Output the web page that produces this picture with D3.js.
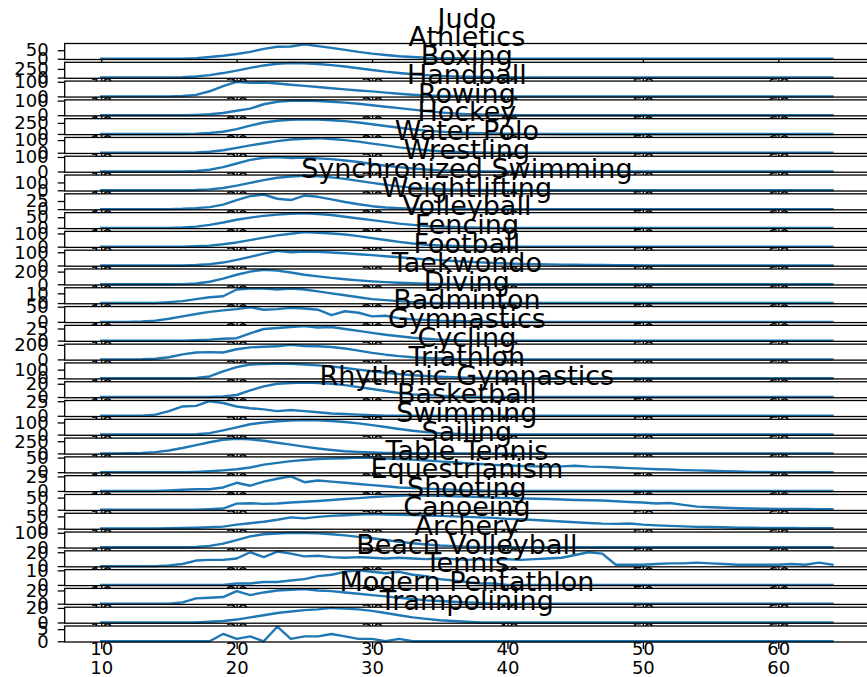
<!DOCTYPE html>
<html>
<head>
<meta charset="utf-8">
<script src="https://cdn.jsdelivr.net/npm/d3@7"></script>
<style>
  body { margin: 0; background: #fff; }
  svg { display: block; }
  text { font-family: "DejaVu Sans", sans-serif; fill: #000; }
</style>
</head>
<body>
<svg id="chart" width="867" height="677"></svg>
<script>
// ages on the x axis
var ages = [10,11,12,13,14,15,16,17,18,19, 20,21,22,23,24,25,26,27,28,29, 30,31,32,33,34,35,36,37,38,39,
            40,41,42,43,44,45,46,47,48,49, 50,51,52,53,54,55,56,57,58,59, 60,61,62,63,64];
var xTicks = [10, 20, 30, 40, 50, 60];

var sports = ["Judo", "Athletics", "Boxing", "Handball", "Rowing", "Hockey", "Water Polo", "Wrestling",
  "Synchronized Swimming", "Weightlifting", "Volleyball", "Fencing", "Football", "Taekwondo", "Diving",
  "Badminton", "Gymnastics", "Cycling", "Triathlon", "Rhythmic Gymnastics", "Basketball", "Swimming",
  "Sailing", "Table Tennis", "Equestrianism", "Shooting", "Canoeing", "Archery", "Beach Volleyball",
  "Tennis", "Modern Pentathlon", "Trampolining"];

// counts per age, ages 10..64
var judo       = [0,0,0,0,0,0,1,4,10,18, 28,40,58,70,72,85,74,64,52,40, 30,22,15,10,6,4,3,2,1,1, 0,0,0,0,0,0,0,0,0,0, 0,0,0,0,0,0,0,0,0,0, 0,0,0,0,0];
var athletics  = [0,0,0,0,1,3,12,30,70,130, 200,280,350,400,420,415,390,360,320,270, 220,170,130,95,70,50,35,25,18,12, 9,6,4,3,2,1,1,0,0,0, 0,0,0,0,0,0,0,0,0,0, 0,0,0,0,0];
var boxing     = [0,0,0,0,0,0,2,10,35,70, 100,93,95,88,80,72,64,56,48,40, 34,26,18,11,6,3,2,1,0,0, 0,0,0,0,0,0,0,0,0,0, 0,0,0,0,0,0,0,0,0,0, 0,0,0,0,0];
var handball   = [0,0,0,0,0,0,0,2,6,15, 30,45,75,92,98,100,97,92,86,78, 68,58,48,38,28,19,12,7,4,2, 1,0,0,0,0,0,0,0,0,0, 0,0,0,0,0,0,0,0,0,0, 0,0,0,0,0];
var rowing     = [0,0,0,0,0,0,0,6,20,50, 110,190,260,300,320,330,325,310,290,260, 220,180,140,105,75,52,35,22,14,9, 5,3,2,1,0,0,0,0,0,0, 0,0,0,0,0,0,0,0,0,0, 0,0,0,0,0];
var hockey     = [0,0,0,0,0,0,0,2,8,20, 38,58,75,92,105,110,115,108,100,88, 72,58,42,30,20,12,7,4,2,1, 0,0,0,0,0,0,0,0,0,0, 0,0,0,0,0,0,0,0,0,0, 0,0,0,0,0];
var waterPolo  = [0,0,0,0,0,0,1,4,12,30, 55,80,95,100,92,96,90,85,76,65, 52,40,30,21,14,8,5,3,1,0, 0,0,0,0,0,0,0,0,0,0, 0,0,0,0,0,0,0,0,0,0, 0,0,0,0,0];
var wrestling  = [0,0,0,0,0,0,0,3,12,30, 60,95,130,160,175,185,178,165,145,120, 95,70,50,34,22,14,8,5,3,1, 0,0,0,0,0,0,0,0,0,0, 0,0,0,0,0,0,0,0,0,0, 0,0,0,0,0];
var synchro    = [0,0,0,0,0,0,1,3,6,14, 28,40,45,32,28,42,38,30,22,15, 9,5,3,1,0,0,0,0,0,0, 0,0,0,0,0,0,0,0,0,0, 0,0,0,0,0,0,0,0,0,0, 0,0,0,0,0];
var weightlift = [0,0,0,0,0,0,2,6,14,25, 38,48,56,62,66,68,65,60,52,44, 36,28,20,14,9,6,4,2,1,0, 0,0,0,0,0,0,0,0,0,0, 0,0,0,0,0,0,0,0,0,0, 0,0,0,0,0];
var volleyball = [0,0,0,0,0,0,0,3,8,18, 32,50,68,85,98,110,105,100,92,80, 65,50,36,24,15,9,5,3,1,0, 0,0,0,0,0,0,0,0,0,0, 0,0,0,0,0,0,0,0,0,0, 0,0,0,0,0];
var fencing    = [0,0,0,0,0,0,0,3,10,22, 42,65,90,110,100,105,103,98,92,85, 78,70,62,54,46,40,34,28,23,19, 15,12,10,8,6,5,4,3,2,2, 1,1,0,0,0,0,0,0,0,0, 0,0,0,0,0];
var football   = [0,0,0,0,0,0,2,12,40,90, 150,200,230,215,185,150,125,100,80,62, 46,33,23,15,10,6,4,2,1,0, 0,0,0,0,0,0,0,0,0,0, 0,0,0,0,0,0,0,0,0,0, 0,0,0,0,0];
var taekwondo  = [0,0,0,0,0,1,2,4,6,7, 14,15,15,14,15,14,12,10,8,6, 4,3,2,1,0,0,0,0,0,0, 0,0,0,0,0,0,0,0,0,0, 0,0,0,0,0,0,0,0,0,0, 0,0,0,0,0];
var diving     = [0,0,0,1,4,10,18,26,33,38, 42,48,40,42,46,44,40,22,35,30, 18,20,12,8,6,4,3,2,1,0, 0,0,0,0,0,0,0,0,0,0, 0,0,0,0,0,0,0,0,0,0, 0,0,0,0,0];
var badminton  = [0,0,0,0,0,0,0,1,2,4, 5,15,24,26,28,30,27,28,24,20, 16,12,9,6,4,2,1,0,0,0, 0,0,0,0,0,0,0,0,0,0, 0,0,0,0,0,0,0,0,0,0, 0,0,0,0,0];
var gymnastics = [0,0,0,2,10,30,70,95,100,95, 140,165,175,180,200,185,180,170,150,120, 90,65,45,30,20,12,7,4,2,1, 0,0,0,0,0,0,0,0,0,0, 0,0,0,0,0,0,0,0,0,0, 0,0,0,0,0];
var cycling    = [0,0,0,0,0,0,0,3,20,80, 130,160,165,170,168,160,150,138,120,100, 82,64,48,35,25,17,11,7,4,3, 2,1,0,0,0,0,0,0,0,0, 0,0,0,0,0,0,0,0,0,0, 0,0,0,0,0];
var triathlon  = [0,0,0,0,0,0,0,0,0,1, 3,10,16,20,21,22,21,20,18,15, 12,9,6,4,3,2,1,0,0,0, 0,0,0,0,0,0,0,0,0,0, 0,0,0,0,0,0,0,0,0,0, 0,0,0,0,0];
var rhythmic   = [0,0,0,0,2,8,16,17,25,22, 16,13,11,8,10,8,6,4,3,2, 1,0,0,0,0,0,0,0,0,0, 0,0,0,0,0,0,0,0,0,0, 0,0,0,0,0,0,0,0,0,0, 0,0,0,0,0];
var basketball = [0,0,0,0,0,0,0,3,12,35, 60,85,100,110,115,120,118,112,104,92, 78,62,46,32,20,12,7,4,2,1, 0,0,0,0,0,0,0,0,0,0, 0,0,0,0,0,0,0,0,0,0, 0,0,0,0,0];
var swimming   = [0,0,2,8,25,60,110,170,230,280, 300,290,260,220,180,140,100,70,45,30, 18,10,6,3,2,1,0,0,0,0, 0,0,0,0,0,0,0,0,0,0, 0,0,0,0,0,0,0,0,0,0, 0,0,0,0,0];
var sailing    = [0,0,0,0,0,0,0,1,3,6, 10,16,26,32,38,42,45,47,48,50, 49,47,45,43,40,37,34,31,28,25, 23,21,20,19,20,22,19,18,16,14, 12,10,9,7,6,5,3,2,1,1, 0,0,0,0,0];
var tableTennis= [0,0,0,0,0,1,2,3,3,6, 14,9,16,21,25,15,18,16,14,12, 10,8,6,5,4,3,2,1,1,0, 0,0,0,0,0,0,0,0,0,0, 0,0,0,0,0,0,0,0,0,0, 0,0,0,0,0];
var equestrian = [0,0,0,0,0,0,0,0,2,5, 25,27,24,26,30,33,36,40,44,48, 52,55,57,60,58,57,55,54,52,50, 48,47,45,44,42,40,39,38,35,32, 30,26,28,20,13,10,8,6,5,4, 3,3,3,2,2];
var shooting   = [0,0,0,0,0,1,2,3,5,8, 16,22,28,36,46,42,48,52,55,58, 60,58,57,56,54,52,50,48,46,44, 40,38,35,32,29,26,23,20,19,21, 16,13,11,9,7,6,5,3,3,2, 2,2,1,1,1];
var canoeing   = [0,0,0,0,0,0,0,2,10,25, 50,75,90,95,100,98,96,90,82,72, 62,50,38,28,19,12,8,5,3,2, 1,0,0,0,0,0,0,0,0,0, 0,0,0,0,0,0,0,0,0,0, 0,0,0,0,0];
var archery    = [0,0,0,0,0,1,3,8,9,9, 11,20,13,21,18,14,15,13,12,13, 12,11,12,11,10,11,10,9,10,9, 10,9,10,11,12,16,20,18,2,2, 2,3,4,4,5,4,3,2,2,2, 2,3,2,5,2];
var beachVolley= [0,0,0,0,0,0,0,0,0,0, 1,1,2,2,3,4,6,7,9,10, 9,8,9,7,6,4,3,2,1,1, 0,0,0,0,0,0,0,0,0,0, 0,0,0,0,0,0,0,0,0,0, 0,0,0,0,0];
var tennis     = [0,0,0,0,0,0,2,8,9,10, 19,13,17,20,21,22,20,19,17,15, 13,11,9,7,5,4,3,2,1,0, 0,0,0,0,0,0,0,0,0,0, 0,0,0,0,0,0,0,0,0,0, 0,0,0,0,0];
var pentathlon = [0,0,0,0,0,0,0,0,1,2, 4,7,10,13,15,17,18,20,19,18, 16,13,10,7,5,3,2,1,0,0, 0,0,0,0,0,0,0,0,0,0, 0,0,0,0,0,0,0,0,0,0, 0,0,0,0,0];
var trampoline = [0,0,0,0,0,0,0,0,0,3, 1,2,0,6,1,2,2,3,2,1, 1,0,1,0,0,0,0,0,0,0, 0,0,0,0,0,0,0,0,0,0, 0,0,0,0,0,0,0,0,0,0, 0,0,0,0,0];

var series = [judo, athletics, boxing, handball, rowing, hockey, waterPolo, wrestling, synchro, weightlift,
  volleyball, fencing, football, taekwondo, diving, badminton, gymnastics, cycling, triathlon, rhythmic,
  basketball, swimming, sailing, tableTennis, equestrian, shooting, canoeing, archery, beachVolley,
  tennis, pentathlon, trampoline];

// layout (axes run past the right edge, like the original figure)
var left = 64.7, right = 869, top0 = 43.5, step = 18.79, axH = 16;

var svg = d3.select("#chart");
svg.append("rect").attr("width", 867).attr("height", 677).attr("fill", "#fff");

var x = d3.scaleLinear().domain([7.3, 66.7]).range([left, right]);

// matplotlib-like locator: biggest nice step that still leaves two ticks in view
function yStep(maxV) {
  var lim = 1.05 * maxV;
  var e = Math.pow(10, Math.floor(Math.log10(lim)));
  var best = e;
  [1, 2, 2.5, 5, 10].forEach(function(s) { if (s * e <= lim + 1e-9) best = s * e; });
  return best;
}

sports.forEach(function(name, i) {
  var vals = series[i];
  var maxV = d3.max(vals);
  var t = top0 + i * step, b = t + axH;
  var y = d3.scaleLinear().domain([-0.05 * maxV, 1.05 * maxV]).range([b, t]);
  var g = svg.append("g");

  g.append("rect").attr("x", left).attr("y", t).attr("width", right - left).attr("height", axH)
    .attr("fill", "#fff");

  var line = d3.line().x(function(d, k) { return x(ages[k]); }).y(function(d) { return y(d); });
  g.append("path").datum(vals).attr("d", line)
    .attr("fill", "none").attr("stroke", "#1f77b4").attr("stroke-width", 2.4)
    .attr("stroke-linejoin", "round").attr("stroke-linecap", "square");

  g.append("rect").attr("x", left).attr("y", t).attr("width", right - left).attr("height", axH)
    .attr("fill", "none").attr("stroke", "#000").attr("stroke-width", 1.3);

  var xa = g.append("g").attr("transform", "translate(0," + b + ")")
    .call(d3.axisBottom(x).tickValues(xTicks).tickSize(7).tickPadding(12).tickFormat(d3.format("d")));
  var st = yStep(maxV);
  var ya = g.append("g").attr("transform", "translate(" + left + ",0)")
    .call(d3.axisLeft(y).tickValues([0, st]).tickSize(7).tickPadding(9).tickFormat(function(d) { return String(d); }));
  [xa, ya].forEach(function(a) {
    a.select(".domain").remove();
    a.selectAll("line").attr("stroke", "#000").attr("stroke-width", 1.3);
    a.selectAll("text").attr("font-size", 18).attr("font-family", "DejaVu Sans").attr("fill", "#000");
  });

  g.append("text").attr("x", (left + right) / 2).attr("y", t - 16)
    .attr("text-anchor", "middle").attr("font-size", 27).text(name);
});
</script>
</body>
</html>
